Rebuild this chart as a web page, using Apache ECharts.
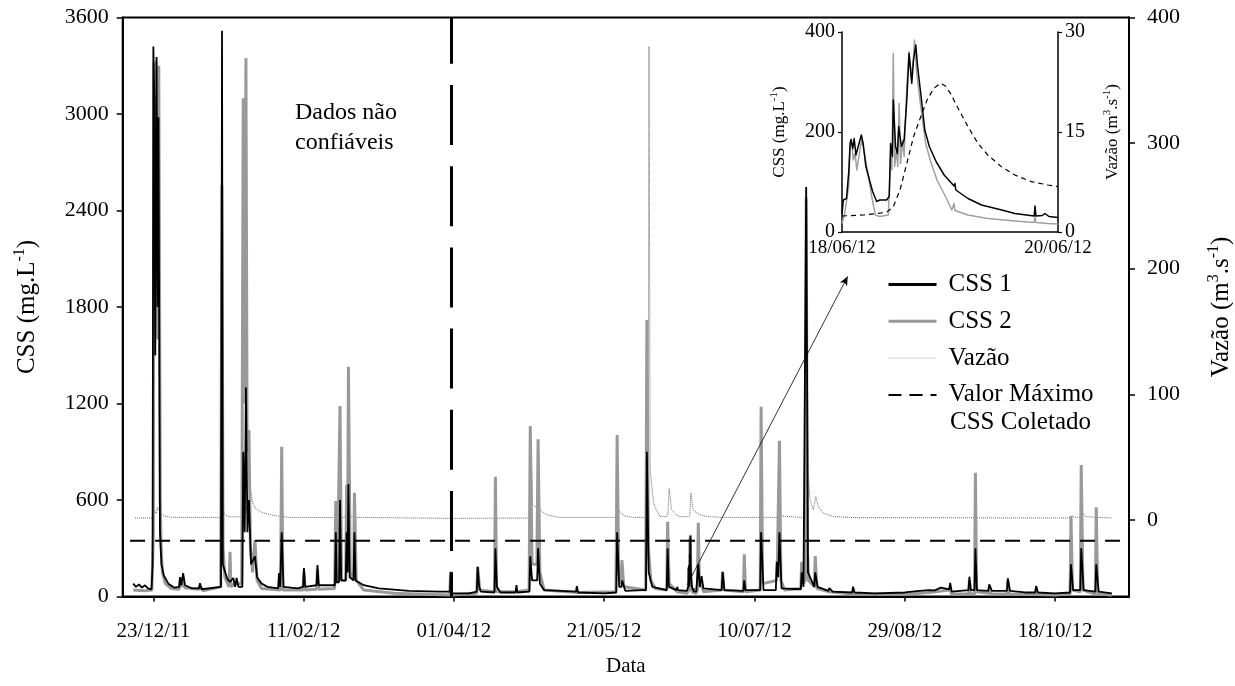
<!DOCTYPE html>
<html><head><meta charset="utf-8">
<script src="https://cdn.jsdelivr.net/npm/echarts@6/dist/echarts.min.js"></script>
<style>html,body{margin:0;padding:0;background:#fff}#c{width:1235px;height:686px}</style>
</head><body><div id="c"></div>
<script>
// ---------- tick labels ----------
const xTickDays = [0, 50, 100, 150, 200, 250, 300];
const xTickLabels = ['23/12/11', '11/02/12', '01/04/12', '21/05/12', '10/07/12', '29/08/12', '18/10/12'];
const rightTicks = [0, 100, 200, 300, 400];
const insetStartDay = 178;            // 18/06/12 in days after 23/12/11
const insetTickHours = [0, 48];
const insetTickLabels = ['18/06/12', '20/06/12'];

// ---------- annotations (data units) ----------
const maxCollected = 346;             // mg/L
const maxCollectedSpan = [-7.75, 324.6];
const unreliableDay = 99;
const arrowFrom = [177.6, 72];
const arrowTo = [231, 1990];

// ---------- inset series (hours after 18/06/12 00:00) ----------
const insetCSS1 = [[0,37],[0.3,64],[1.0,67],[1.5,120],[1.8,177],[2.0,185],[2.4,167],[2.7,187],[3.1,154],[3.6,171],[4.3,194],[4.7,177],[5.3,131],[6.1,104],[6.8,81],[7.7,61],[8.4,64],[9.9,64],[10.5,71],[10.8,177],[11.2,151],[11.4,264],[11.9,171],[12.3,157],[12.6,211],[13.2,171],[13.8,184],[14.4,264],[14.9,357],[15.5,297],[15.9,344],[16.4,374],[16.8,331],[17.5,277],[18.4,204],[19.4,171],[20.9,141],[22.7,114],[24.9,92],[25.1,97],[25.3,84],[28,67],[31,54],[35.5,44],[38.4,37],[42.7,32],[42.9,52],[43.1,32],[44.5,33],[45.1,37],[46,31],[48,29]];
const insetCSS2 = [[0,17],[0.6,37],[1.5,91],[1.8,171],[2.2,177],[2.5,144],[2.9,157],[3.3,124],[4.1,171],[4.4,184],[5.1,151],[5.9,111],[6.6,71],[7.4,34],[8.4,31],[10.3,34],[10.8,151],[11.1,124],[11.4,357],[11.7,131],[12.1,164],[12.4,131],[12.7,257],[13.0,137],[13.5,184],[13.8,151],[14.4,291],[14.9,361],[15.4,311],[15.9,351],[16.1,384],[16.6,317],[17.5,251],[18.6,177],[19.6,144],[21.1,104],[23,71],[24.4,44],[24.9,57],[25.1,43],[28,34],[32.4,27],[36.1,24],[38.4,22],[42.7,19],[42.9,31],[43.1,19],[45.8,17],[48,16]];
const insetQ = [[0,2.4],[4.8,2.55],[9.9,2.95],[11.4,3.8],[12.9,6.3],[14.4,10.3],[15.9,14.3],[17.5,17.3],[18.9,19.8],[20.4,21.55],[21.9,22.3],[23,21.9],[24.1,20.8],[25.6,18.8],[28,15.8],[30.2,13.3],[32.4,11.55],[35.4,9.8],[38.4,8.55],[42.1,7.55],[45.8,7.05],[48,6.8]];

// ---------- main series (days after 23/12/11), before and after the inset event ----------
const css1Before = [[-6.7,80],[-5.8,60],[-4.8,75],[-3.8,55],[-2.8,70],[-1.8,50],[-0.6,45],[-0.25,200],[0.0,3420],[0.3,3100],[0.6,1500],[1.06,3355],[1.4,1800],[1.7,2980],[2.2,400],[2.7,200],[3.5,130],[5,80],[7,55],[8.6,60],[8.9,120],[9.3,70],[9.9,145],[10.5,70],[13,50],[15.2,50],[15.5,83],[16,45],[22.5,60],[22.85,3518],[23.1,200],[23.9,150],[24.6,110],[25.5,90],[26.6,115],[27.2,60],[27.7,115],[28.3,60],[29.6,60],[29.9,900],[30.4,400],[30.8,1300],[31.3,400],[31.8,600],[32.5,200],[33.8,250],[34.5,120],[36,80],[38,60],[41.5,50],[41.8,146],[42.2,60],[42.4,60],[42.7,400],[43.3,60],[48,50],[49.8,60],[50.1,177],[50.5,60],[54.3,70],[54.6,196],[55,70],[60.4,70],[60.7,400],[61,90],[61.8,90],[62.1,600],[62.5,100],[64.0,100],[64.3,400],[64.6,150],[64.9,700],[65.3,120],[66.6,100],[66.9,400],[67.3,100],[70,70],[75,50],[85,35],[95,30],[98.7,30],[98.9,154],[99.2,20],[105,20],[107.6,30],[107.9,185],[108.4,60],[109,30],[113.5,25],[113.8,300],[114.3,60],[114.7,53],[115.5,25],[120.5,25],[120.8,71],[121.1,25],[125.1,30],[125.4,250],[126,100],[127.7,100],[128,300],[128.6,80],[130,40],[140.6,30],[140.9,65],[141.3,25],[150,20],[154,25],[154.3,400],[155,60],[155.7,60],[156,100],[157,35],[163,40],[163.9,40],[164.2,900],[164.8,150],[166,60],[170.8,40],[171.1,300],[171.5,60],[174,40],[174.3,59],[174.6,40],[177.5,35]];
const css1After = [[180.6,30],[181.0,35],[181.3,200],[181.8,60],[182.1,60],[182.4,127],[183,50],[189.1,40],[189.4,154],[190,40],[196.3,35],[196.6,100],[197,40],[201.9,40],[202.2,400],[203,40],[207.1,40],[207.4,216],[207.9,120],[208.3,400],[209,50],[215.4,45],[215.7,150],[216.3,60],[216.9,60],[217.2,2546],[217.8,150],[219.9,60],[220.2,150],[221,60],[224.6,35],[224.9,53],[226,30],[232.5,25],[232.8,61],[233.3,25],[240,20],[250,25],[255,35],[258,40],[260,38],[262,55],[264.8,45],[265.1,84],[265.6,30],[271.2,40],[271.5,123],[272,40],[273.2,40],[273.5,300],[274,40],[277.8,35],[278.1,76],[279,35],[284,35],[284.3,113],[285,35],[290,25],[293.4,25],[293.7,65],[294.3,25],[300,20],[305,25],[305.3,200],[306,40],[308.4,40],[308.7,300],[309.5,40],[313.4,30],[313.7,200],[314.5,30],[318.9,20]];
const css2Before = [[-6.7,40],[-3,35],[-0.5,40],[0.0,400],[0.2,3320],[0.5,1500],[0.9,3330],[1.3,1600],[1.8,3300],[2.3,600],[2.6,300],[3.0,150],[4,80],[6,50],[8.6,45],[8.9,110],[9.3,60],[9.9,120],[10.4,55],[15.2,45],[15.5,70],[16.5,35],[22.4,60],[22.8,2559],[23.2,300],[23.8,120],[25.2,60],[25.5,278],[25.8,60],[27,80],[29.4,80],[29.9,3098],[30.3,1200],[30.8,3346],[31.2,900],[31.8,1035],[32.3,300],[33.0,150],[33.8,351],[34.5,100],[36,50],[42.3,40],[42.7,931],[43.1,40],[49.8,40],[50.1,150],[50.5,40],[54.3,45],[54.6,170],[55,45],[60.3,50],[60.7,593],[61.2,80],[61.8,80],[62.1,1185],[62.6,100],[64.0,100],[64.3,693],[64.6,200],[64.9,1429],[65.5,150],[66.6,100],[66.9,645],[67.5,100],[70,40],[80,20],[98.6,10],[98.9,150],[99.2,10],[107.6,20],[107.9,185],[108.6,40],[113.5,30],[113.8,745],[114.2,30],[120.8,30],[125.0,40],[125.4,1060],[126,200],[127.6,200],[128.0,977],[128.6,150],[130,40],[140.9,25],[153.9,30],[154.3,1004],[154.8,150],[155.6,80],[155.9,227],[156.5,60],[163.8,40],[164.2,1719],[164.7,300],[165.5,100],[167,50],[170.8,40],[171.1,465],[171.6,80],[174.3,30],[177.5,20]];
const css2After = [[180.6,20],[181.0,40],[181.3,459],[181.7,60],[182.4,80],[183,30],[189.1,40],[189.4,154],[189.8,40],[196.3,30],[196.6,262],[197,30],[201.9,40],[202.2,1180],[202.7,80],[207.3,100],[207.6,200],[208.3,969],[208.8,100],[210,40],[215.4,50],[215.7,216],[216.2,80],[216.9,100],[217.2,2480],[217.6,300],[218,100],[219.9,60],[220.2,252],[220.8,50],[224.9,30],[232.5,15],[232.8,40],[233.2,15],[250,12],[258,25],[264.8,40],[265.1,60],[265.5,15],[271.2,15],[271.5,100],[271.8,15],[273.2,15],[273.5,770],[273.9,30],[277.8,20],[278.1,60],[278.6,15],[284,15],[284.3,100],[284.8,15],[290,12],[293.4,12],[293.7,50],[294.2,12],[300,10],[305.0,15],[305.3,500],[305.8,40],[308.4,30],[308.7,818],[309.3,40],[313.4,15],[313.7,555],[314.2,15],[318.9,10]];
const qBefore = [[-6.1,1.5],[-0.5,1.5],[0.1,3],[0.3,8],[0.8,5],[1.4,10],[2.2,6],[3.5,3],[6,2],[22.6,2],[23.0,9.3],[23.8,4],[25,2.5],[29.5,2.5],[30.0,9.5],[30.5,5],[30.9,10.4],[31.4,6],[32.3,24],[33,14],[34,9],[36,6],[40,3.5],[45,2],[60,1.8],[62,2.5],[63,1.8],[65,3],[67,2],[100,1.2],[125.2,1.5],[125.7,53],[126.2,12],[127.5,10],[128.1,12],[129,7],[131,4],[135,2],[154,2],[154.4,10],[155.2,6],[157,3],[160,2],[164.6,2],[164.9,377],[165.3,40],[166.3,16],[166.9,10],[168.6,2.7],[170.8,2.5],[171.2,5],[171.6,25],[172.4,8],[174,4],[175.1,2.7],[177.5,2.4]];
const qAfter = [[181,5.2],[182,4],[184.1,2.7],[189.5,2],[202,2],[202.5,2.7],[203.5,2],[208,2],[208.3,5.5],[209.5,3],[215,2],[216.8,2],[217.2,265],[217.8,40],[218.5,16],[219.6,8],[220.4,18.5],[221.2,10.5],[222.9,5.3],[226.2,2.7],[232.8,1.8],[305.2,1.5],[305.6,3.4],[306.5,2],[308.4,2],[308.6,8],[310,2.7],[313.7,2],[313.9,2.5],[318.9,1.5]];

const toDays = arr => arr.map(p => [insetStartDay + p[0] / 24, p[1]]);
const mainCSS1 = css1Before.concat(toDays(insetCSS1), css1After);
const mainCSS2 = css2Before.concat(toDays(insetCSS2), css2After);
const mainQ = qBefore.concat(toDays(insetQ), qAfter);

const FONT = 'Liberation Serif';
const txt = (size) => ({ fontFamily: FONT, fontSize: size, color: '#000' });
const axisLine = (w) => ({ show: true, onZero: false, lineStyle: { color: '#000', width: w } });
const supName = (size, supSize, lh) => ({ ...txt(size), rich: { t: { ...txt(size), lineHeight: lh }, s: { ...txt(supSize), lineHeight: supSize, verticalAlign: 'top' } } });

const chart = echarts.init(document.getElementById('c'), null, { renderer: 'canvas' });
chart.setOption({
  animation: false,
  backgroundColor: '#fff',
  grid: [
    { left: 122.7, right: 106, top: 17.5, bottom: 89.5, show: true, borderColor: '#000', borderWidth: 2, outerBoundsMode: 'none', containLabel: false },
    { left: 842, width: 216, top: 32, height: 200, outerBoundsMode: 'none', containLabel: false }
  ],
  xAxis: [
    { gridIndex: 0, type: 'value', min: -10.2, max: 324.6,
      axisLine: axisLine(2), splitLine: { show: false },
      axisTick: { show: true, length: 5, customValues: xTickDays, lineStyle: { color: '#000', width: 1.5 } },
      axisLabel: { customValues: xTickDays, margin: 24, ...txt(21),
        formatter: v => xTickLabels[xTickDays.indexOf(v)] || '' },
      name: 'Data', nameLocation: 'middle', nameGap: 59, nameTextStyle: txt(21) },
    { gridIndex: 1, type: 'value', min: 0, max: 48,
      axisLine: axisLine(1.5), splitLine: { show: false },
      axisTick: { show: false },
      axisLabel: { customValues: insetTickHours, margin: 7, ...txt(19), showMinLabel: true, showMaxLabel: true,
        formatter: v => insetTickLabels[insetTickHours.indexOf(v)] || '' } }
  ],
  yAxis: [
    { gridIndex: 0, type: 'value', min: 0, max: 3600, interval: 600, position: 'left',
      axisLine: axisLine(2), splitLine: { show: false },
      axisTick: { show: true, length: 6, lineStyle: { color: '#000', width: 1.5 } },
      axisLabel: { margin: 14, ...txt(22), formatter: v => String(v) },
      name: '{t|CSS (mg.L}{s|-1}{t|)}', nameLocation: 'middle', nameGap: 80,
      nameTextStyle: supName(25, 16, 31) },
    { gridIndex: 0, type: 'value', min: -61, max: 400, position: 'right',
      axisLine: axisLine(2), splitLine: { show: false },
      axisTick: { show: true, length: 6, customValues: rightTicks, lineStyle: { color: '#000', width: 1.5 } },
      axisLabel: { customValues: rightTicks, margin: 18, ...txt(22), formatter: v => String(v) },
      name: '{t|Vazão (m}{s|3}{t|.s}{s|-1}{t|)}', nameLocation: 'middle', nameGap: 77,
      nameTextStyle: supName(25, 16, 31) },
    { gridIndex: 1, type: 'value', min: 0, max: 400, interval: 200, position: 'left',
      axisLine: axisLine(1.5), splitLine: { show: false },
      axisTick: { show: true, length: 4, lineStyle: { color: '#000', width: 1.2 } },
      axisLabel: { margin: 7, ...txt(20) },
      name: '{t|CSS (mg.L}{s|-1}{t|)}', nameLocation: 'middle', nameGap: 52,
      nameTextStyle: supName(17, 11, 21) },
    { gridIndex: 1, type: 'value', min: 0, max: 30, interval: 15, position: 'right',
      axisLine: axisLine(1.5), splitLine: { show: false },
      axisTick: { show: true, length: 4, lineStyle: { color: '#000', width: 1.2 } },
      axisLabel: { margin: 7, ...txt(20) },
      name: '{t|Vazão (m}{s|3}{t|.s}{s|-1}{t|)}', nameLocation: 'middle', nameGap: 44,
      nameTextStyle: supName(17, 11, 21) }
  ],
  legend: {
    orient: 'vertical', left: 887, top: 272, padding: 0, itemWidth: 48, itemHeight: 14, itemGap: 11.8,
    textStyle: { ...txt(25), padding: [0, 0, 0, 7] },
    itemStyle: { color: 'rgba(0,0,0,0)', borderColor: 'rgba(0,0,0,0)', borderWidth: 0, opacity: 0 },
    data: [
      { name: 'CSS 1', lineStyle: { color: '#000', width: 3 } },
      { name: 'CSS 2', lineStyle: { color: '#999', width: 3 } },
      { name: 'Vazão', lineStyle: { color: '#aaa', width: 1, type: [1, 1] } },
      { name: 'Valor Máximo', lineStyle: { color: '#000', width: 2, type: [13, 8] } }
    ],
    selectedMode: false
  },
  graphic: [
    { type: 'text', left: 295, top: 98, style: { text: 'Dados não\nconfiáveis', font: '24px "Liberation Serif"', fill: '#000', lineHeight: 30 } },
    { type: 'text', left: 950, top: 410, style: { text: 'CSS Coletado', font: '25px "Liberation Serif"', fill: '#000' } }
  ],
  series: [
    { name: 'Vazão', type: 'line', xAxisIndex: 0, yAxisIndex: 1, data: mainQ, showSymbol: false, symbol: 'none',
      lineStyle: { color: '#666', width: 1, type: [1, 1], join: 'bevel' }, itemStyle: { color: '#999' }, z: 2 },
    { name: 'CSS 2', type: 'line', xAxisIndex: 0, yAxisIndex: 0, data: mainCSS2, showSymbol: false, symbol: 'none',
      lineStyle: { color: '#999', width: 3, join: 'bevel' }, itemStyle: { color: '#999' }, z: 3 },
    { name: 'CSS 1', type: 'line', xAxisIndex: 0, yAxisIndex: 0, data: mainCSS1, showSymbol: false, symbol: 'none',
      lineStyle: { color: '#000', width: 1.8, join: 'bevel' }, itemStyle: { color: '#000' }, z: 4,
      markLine: { silent: true, animation: false, label: { show: false },
        data: [
          [{ xAxis: unreliableDay, yAxis: 3600, symbol: 'none', lineStyle: { color: '#000', width: 3, type: [60, 21.2], dashOffset: 13.7 } },
           { xAxis: unreliableDay, yAxis: 0, symbol: 'none' }],
          [{ coord: arrowFrom, symbol: 'none', lineStyle: { color: '#000', width: 0.8, type: 'solid' } },
           { coord: arrowTo, symbol: 'arrow', symbolSize: [6, 9] }]
        ] } },
    { name: 'Valor Máximo', type: 'line', xAxisIndex: 0, yAxisIndex: 0,
      data: [[maxCollectedSpan[0], maxCollected], [maxCollectedSpan[1], maxCollected]], showSymbol: false, symbol: 'none',
      lineStyle: { color: '#000', width: 2, type: [15, 10] }, itemStyle: { color: '#000' }, z: 5 },
    { name: 'Inset CSS 2', type: 'line', xAxisIndex: 1, yAxisIndex: 2, data: insetCSS2, showSymbol: false, symbol: 'none',
      lineStyle: { color: '#a0a0a0', width: 1.5, join: 'round' }, z: 3 },
    { name: 'Inset CSS 1', type: 'line', xAxisIndex: 1, yAxisIndex: 2, data: insetCSS1, showSymbol: false, symbol: 'none',
      lineStyle: { color: '#000', width: 1.5, join: 'round' }, z: 4 },
    { name: 'Inset Vazão', type: 'line', xAxisIndex: 1, yAxisIndex: 3, data: insetQ, showSymbol: false, symbol: 'none',
      lineStyle: { color: '#000', width: 1.2, type: [5, 4] }, z: 4 }
  ]
});
</script></body></html>
